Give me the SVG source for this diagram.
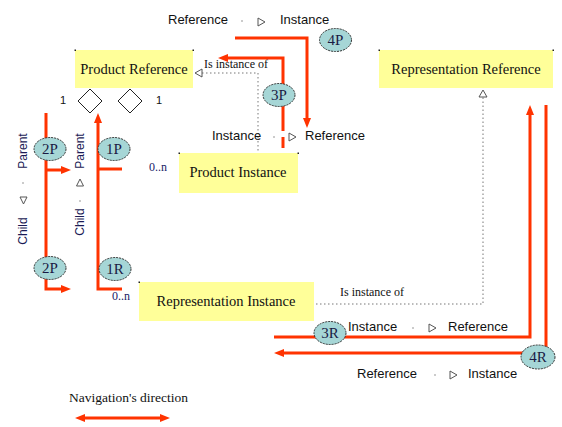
<svg xmlns="http://www.w3.org/2000/svg" width="562" height="427" viewBox="0 0 562 427">
<style>
.box{fill:#FFFF99;stroke:none}
.bt{font-family:"Liberation Serif","Times New Roman",serif;font-size:14.5px;fill:#111;text-anchor:middle}
.lab{font-family:"Liberation Sans",Arial,sans-serif;font-size:13px;fill:#111}
.vl{font-family:"Liberation Sans",Arial,sans-serif;font-size:12px;fill:#1a1a55;text-anchor:middle}
.ser{font-family:"Liberation Serif","Times New Roman",serif;font-size:12px;fill:#111}
.mult{font-family:"Liberation Serif","Times New Roman",serif;font-size:12px;fill:#1a1a66}
.one{font-family:"Liberation Sans",Arial,sans-serif;font-size:11px;fill:#111}
.red{fill:none;stroke:#FF3300;stroke-width:3}
.dot{fill:none;stroke:#777;stroke-width:1;stroke-dasharray:1.5,2.5}
.hollow{fill:#fff;stroke:#555;stroke-width:1}
.ell{fill:#A6D6D6;stroke:#333;stroke-width:1;stroke-dasharray:2,1}
.et{font-family:"Liberation Serif","Times New Roman",serif;font-size:15px;fill:#1a1a44;text-anchor:middle}
.sep{fill:#888}
.corner{fill:#222}
</style>
<defs>
<marker id="ah" viewBox="0 0 10 8" markerWidth="10" markerHeight="8" refX="1" refY="4" orient="auto-start-reverse" markerUnits="userSpaceOnUse">
<path d="M0,0 L10,4 L0,8 z" fill="#FF3300"/>
</marker>
</defs>

<g id="product-reference">
<rect class="box" x="75" y="50" width="118" height="38"/>
<rect class="corner" x="74.5" y="49.5" width="1.5" height="1.5"/><rect class="corner" x="192.5" y="49.5" width="1.5" height="1.5"/>
<text class="bt" x="134" y="74">Product Reference</text>
<polygon points="90,89 102,101 90,113 78,101" fill="#fff" stroke="#222" stroke-width="1"/>
<polygon points="130,89 142,101 130,113 118,101" fill="#fff" stroke="#222" stroke-width="1"/>
<text class="one" x="60" y="104">1</text>
<text class="one" x="156" y="104">1</text>
</g>

<g id="representation-reference">
<rect class="box" x="379" y="50" width="174" height="38"/>
<rect class="corner" x="378.5" y="49.5" width="1.5" height="1.5"/><rect class="corner" x="552.5" y="49.5" width="1.5" height="1.5"/>
<text class="bt" x="466" y="74">Representation Reference</text>
</g>

<g id="product-instance">
<rect class="box" x="179" y="153" width="119" height="40"/>
<rect class="corner" x="178.5" y="152.5" width="1.5" height="1.5"/><rect class="corner" x="297.5" y="152.5" width="1.5" height="1.5"/>
<text class="bt" x="238" y="177">Product Instance</text>
</g>

<g id="representation-instance">
<rect class="box" x="139" y="282" width="175" height="39"/>
<rect class="corner" x="138.5" y="281.5" width="1.5" height="1.5"/>
<text class="bt" x="226" y="306">Representation Instance</text>
</g>

<g id="connectors">
<path class="dot" d="M202,73 H258 V153"/>
<polygon class="hollow" points="195,73 202,69 202,77"/>
<text class="ser" x="204" y="68">Is instance of</text>
<path class="dot" d="M316,304 H483 V97"/>
<polygon class="hollow" points="483,90 479,97 487,97"/>
<text class="ser" x="340" y="296">Is instance of</text>

<path class="red" d="M235,38 H307 V119" marker-end="url(#ah)"/>
<path class="red" d="M283,148 V137"/>
<path class="red" d="M283,131 V58 H227" marker-end="url(#ah)"/>
<path class="red" d="M122,289 H98 V122" marker-end="url(#ah)"/>
<path class="red" d="M98,169 H122"/>
<path class="red" d="M46,113 V289 H62" marker-end="url(#ah)"/>
<path class="red" d="M46,170 H62" marker-end="url(#ah)"/>
<path class="red" d="M274,337 H530 V114" marker-end="url(#ah)"/>
<path class="red" d="M546,105 V353 H283" marker-end="url(#ah)"/>
<path class="red" d="M84,418 H161" marker-start="url(#ah)" marker-end="url(#ah)"/>

<text class="lab" x="168" y="24">Reference</text>
<circle class="sep" cx="242" cy="21" r="0.8"/>
<polygon class="hollow" points="258,18 265,22 258,26"/>
<text class="lab" x="280" y="24">Instance</text>

<text class="lab" x="212" y="140">Instance</text>
<circle class="sep" cx="274" cy="137" r="0.8"/>
<polygon class="hollow" points="289,133 296,137 289,141"/>
<text class="lab" x="305" y="140">Reference</text>

<text class="lab" x="348" y="331">Instance</text>
<circle class="sep" cx="413" cy="328" r="0.8"/>
<polygon class="hollow" points="429,324 436,328 429,332"/>
<text class="lab" x="448" y="331">Reference</text>

<text class="lab" x="357" y="378">Reference</text>
<circle class="sep" cx="435" cy="375" r="0.8"/>
<polygon class="hollow" points="450,371 457,375 450,379"/>
<text class="lab" x="468" y="378">Instance</text>

<text class="vl" transform="translate(27,151) rotate(-90)">Parent</text>
<circle class="sep" cx="23" cy="183" r="0.8"/>
<polygon class="hollow" points="20,197 27,197 23.5,204"/>
<text class="vl" transform="translate(27,231) rotate(-90)">Child</text>

<text class="vl" transform="translate(84,151) rotate(-90)">Parent</text>
<polygon class="hollow" points="80,179 76.5,186 83.5,186"/>
<circle class="sep" cx="80" cy="201" r="0.8"/>
<text class="vl" transform="translate(84,222) rotate(-90)">Child</text>

<text class="mult" x="149" y="171">0..n</text>
<text class="mult" x="112" y="300">0..n</text>

<ellipse class="ell" cx="335.5" cy="40" rx="16" ry="11.5"/><text class="et" x="335.5" y="45">4P</text>
<ellipse class="ell" cx="279" cy="95" rx="16" ry="11.5"/><text class="et" x="279" y="100">3P</text>
<ellipse class="ell" cx="114" cy="149" rx="16" ry="11.5"/><text class="et" x="114" y="154">1P</text>
<ellipse class="ell" cx="115" cy="269" rx="16" ry="11.5"/><text class="et" x="115" y="274">1R</text>
<ellipse class="ell" cx="50" cy="149" rx="16" ry="11.5"/><text class="et" x="50" y="154">2P</text>
<ellipse class="ell" cx="50" cy="268" rx="16" ry="11.5"/><text class="et" x="50" y="273">2P</text>
<ellipse class="ell" cx="330" cy="333" rx="16" ry="11.5"/><text class="et" x="330" y="338">3R</text>
<ellipse class="ell" cx="538" cy="357" rx="17" ry="12"/><text class="et" x="538" y="362">4R</text>

<text class="ser" x="69" y="402" style="font-size:13.5px">Navigation's direction</text>
</g>
</svg>
